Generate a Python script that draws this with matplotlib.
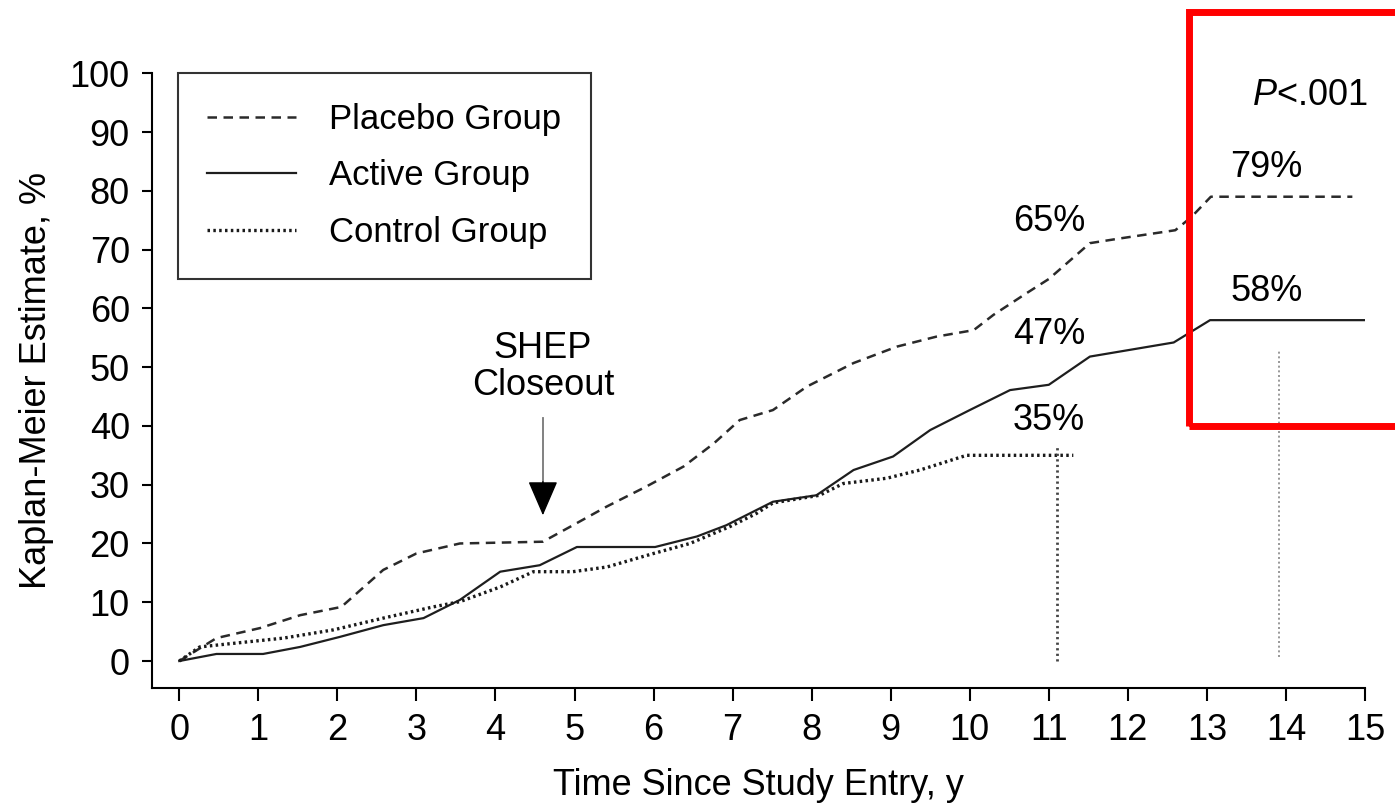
import matplotlib
matplotlib.use("Agg")
import matplotlib.pyplot as plt
from matplotlib.lines import Line2D
from matplotlib.patches import Rectangle

plt.rcParams['font.family'] = ['Liberation Sans', 'DejaVu Sans']
plt.rcParams['mathtext.fontset'] = 'custom'
plt.rcParams['mathtext.it'] = 'Liberation Sans:italic'
plt.rcParams['mathtext.rm'] = 'Liberation Sans'

# Kaplan-Meier curves, cumulative %, by years since entry
placebo_t = [0, 0.47, 1.02, 1.53, 2.05, 2.58, 3.0, 3.55, 4.6, 4.98, 5.41, 5.91, 6.38,
             6.76, 7.09, 7.51, 7.94, 8.53, 9.08, 9.58, 10.05, 10.3, 10.72, 11.0,
             11.52, 11.9, 12.6, 12.8, 13.05, 14.84]
placebo_v = [0, 3.9, 5.6, 7.8, 9.2, 15.5, 18.3, 20.0, 20.3, 23.1, 26.3, 29.7, 33.1,
             37.0, 41.0, 42.7, 46.7, 50.7, 53.5, 55.2, 56.3, 58.9, 62.6, 65.0,
             71.1, 71.9, 73.3, 75.5, 79.0, 79.0]

active_t = [0, 0.47, 1.06, 1.53, 2.03, 2.58, 3.09, 3.55, 4.06, 4.56, 5.03, 6.02, 6.55,
            6.92, 7.51, 8.06, 8.53, 9.03, 9.5, 10.0, 10.51, 11.0, 11.52, 12.58,
            13.04, 15.06]
active_v = [0, 1.2, 1.2, 2.4, 4.1, 6.1, 7.3, 10.4, 15.2, 16.3, 19.4, 19.4, 21.2,
            23.1, 27.1, 28.2, 32.5, 34.8, 39.3, 42.7, 46.1, 47.0, 51.8, 54.2,
            58.0, 58.0]

control_t = [0, 0.26, 0.68, 1.32, 1.95, 2.58, 3.21, 3.55, 4.06, 4.48, 4.98, 5.41, 6.0,
             6.46, 6.97, 7.3, 7.51, 8.1, 8.4, 8.95, 9.37, 9.96, 11.31]
control_v = [0, 2.4, 3.0, 3.9, 5.3, 7.3, 9.2, 10.1, 12.6, 15.2, 15.2, 16.0, 18.3,
             20.0, 22.9, 25.1, 26.9, 28.2, 30.2, 31.1, 32.5, 35.0, 35.0]

# end-point labels: (x, y, text)
pct_labels = [(11.0, 74.7, "65%"), (11.0, 55.5, "47%"), (11.0, 41.0, "35%"),
              (13.75, 83.9, "79%"), (13.75, 62.8, "58%")]

closeout_year = 4.6

placebo_style = dict(color='#2a2a2a', lw=1.8, dashes=(3.8, 2.6))
active_style = dict(color='#1e1e1e', lw=1.6, ls='-')
control_style = dict(color='#1a1a1a', lw=2.4, dashes=(0.75, 1.0))

fig = plt.figure(figsize=(13.95, 8.09), dpi=100)
ax = fig.add_axes([152 / 1395, 1 - 687.7 / 809, (1365 - 152) / 1395, (687.7 - 73.3) / 809])

ax.plot(placebo_t, placebo_v, **placebo_style)
ax.plot(active_t, active_v, **active_style)
ax.plot(control_t, control_v, **control_style)

# drop lines at the 35% and 58% points
ax.plot([11.1, 11.1], [0, 36.4], color='#444444', lw=2.0, dashes=(0.8, 1.2))
ax.plot([13.91, 13.91], [0.7, 52.9], color='#888888', lw=1.2, dashes=(1.2, 1.6))

for x, y, s in pct_labels:
    ax.text(x, y, s, fontsize=26, ha='center', va='center')
ax.text(14.3, 96.3, r'$\mathit{P}$<.001', fontsize=26, ha='center', va='center')

ax.text(closeout_year, 53.2, "SHEP", fontsize=26, ha='center', va='center')
ax.text(closeout_year, 46.8, "Closeout", fontsize=26, ha='center', va='center')
ax.plot([closeout_year, closeout_year], [41.3, 30.0], color='#777777', lw=1.3)
ax.annotate("", xy=(closeout_year, 24.8), xytext=(closeout_year, 30.5),
            arrowprops=dict(arrowstyle='-|>,head_length=2.2,head_width=0.95',
                            mutation_scale=10, color='black', lw=1.0,
                            shrinkA=0, shrinkB=0))

ax.set_xlim(-0.345, 15)
ax.set_ylim(-4.54, 100)
ax.set_xticks(range(0, 16))
ax.set_yticks(range(0, 101, 10))
for side in ['top', 'right']:
    ax.spines[side].set_visible(False)
for side in ['left', 'bottom']:
    ax.spines[side].set_linewidth(1.5)
ax.tick_params(axis='x', direction='out', length=9.5, width=1.5, pad=9, labelsize=26)
ax.tick_params(axis='y', direction='out', length=7, width=1.5, pad=9, labelsize=26)
ax.set_xlabel("Time Since Study Entry, y", fontsize=26, labelpad=14)
ax.set_ylabel("Kaplan-Meier Estimate, %", fontsize=26, labelpad=11)

handles = [Line2D([], [], **placebo_style),
           Line2D([], [], **active_style),
           Line2D([], [], **control_style)]
leg = ax.legend(handles, ["Placebo Group", "Active Group", "Control Group"],
                loc='upper left', bbox_to_anchor=(0.0214, 1.0), borderaxespad=0,
                fontsize=25, frameon=True, fancybox=False, edgecolor='black',
                handlelength=2.55, handletextpad=0.95, borderpad=0.85, labelspacing=0.68)
leg.get_frame().set_linewidth(1.5)

# highlight box around the final estimates
fig.patches.append(Rectangle((1189.3 / 1395, 1 - 426.3 / 809), 0.2, (426.3 - 11.7) / 809,
                             transform=fig.transFigure, fill=False, edgecolor='#ff0000',
                             lw=5, clip_on=False))

fig.savefig("out.png", dpi=100)
